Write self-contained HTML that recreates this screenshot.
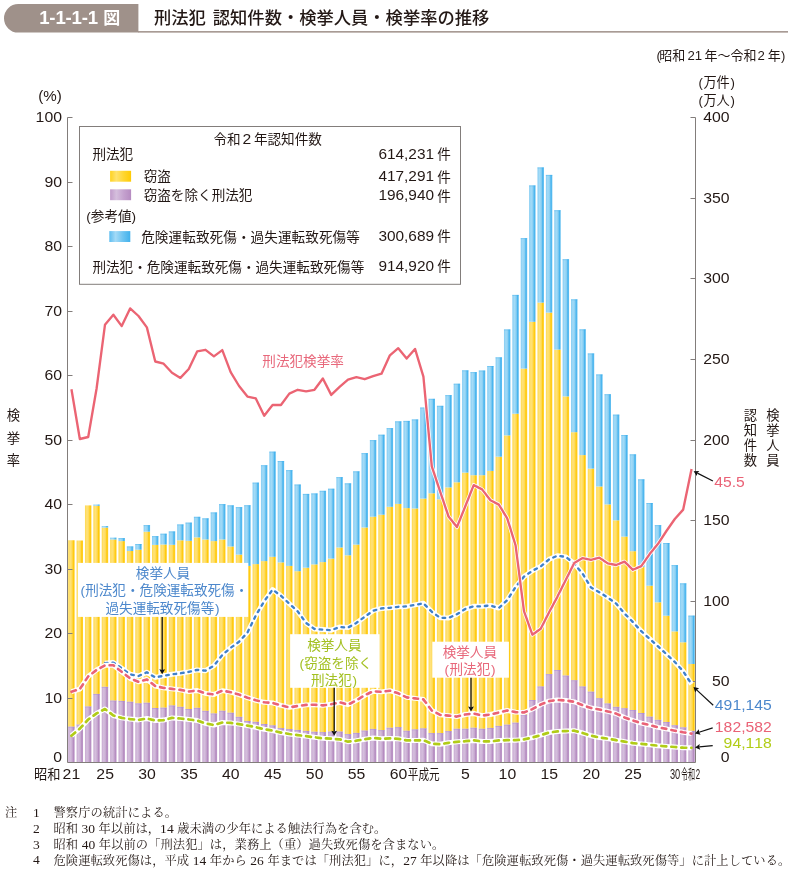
<!DOCTYPE html>
<html lang="ja"><head><meta charset="utf-8"><title>1-1-1-1図 刑法犯 認知件数・検挙人員・検挙率の推移</title>
<style>html,body{margin:0;padding:0;background:#fff}body{width:792px;height:871px;overflow:hidden;font-family:"Liberation Sans","Noto Sans CJK JP",sans-serif}svg{display:block;will-change:transform}text{font-family:inherit;white-space:pre}</style>
</head><body>
<svg width="792" height="871" viewBox="0 0 792 871" role="img" aria-label="1-1-1-1図 刑法犯 認知件数・検挙人員・検挙率の推移（昭和21年～令和2年）">
<defs>
<linearGradient id="gy" x1="0" x2="1" y1="0" y2="0"><stop offset="0" stop-color="#ffd94f"/><stop offset=".32" stop-color="#ffe27c"/><stop offset=".6" stop-color="#ffda55"/><stop offset=".8" stop-color="#ffc90c"/><stop offset="1" stop-color="#ffd130"/></linearGradient>
<linearGradient id="gp" x1="0" x2="1" y1="0" y2="0"><stop offset="0" stop-color="#c8aad1"/><stop offset=".32" stop-color="#d5bfdd"/><stop offset=".6" stop-color="#c9acd2"/><stop offset=".8" stop-color="#b58bc0"/><stop offset="1" stop-color="#bd99c8"/></linearGradient>
<linearGradient id="gb" x1="0" x2="1" y1="0" y2="0"><stop offset="0" stop-color="#86cdf3"/><stop offset=".32" stop-color="#a4dbf7"/><stop offset=".6" stop-color="#89cff3"/><stop offset=".8" stop-color="#48b4ee"/><stop offset="1" stop-color="#62bff0"/></linearGradient>
<linearGradient id="sy" x1="0" x2="1" y1="0" y2="0"><stop offset="0" stop-color="#ffd21f"/><stop offset=".3" stop-color="#ffe26c"/><stop offset=".65" stop-color="#ffd630"/><stop offset="1" stop-color="#ffcb05"/></linearGradient>
<linearGradient id="sp" x1="0" x2="1" y1="0" y2="0"><stop offset="0" stop-color="#c19ccb"/><stop offset=".3" stop-color="#d5bfdd"/><stop offset=".65" stop-color="#c4a1ce"/><stop offset="1" stop-color="#b68cc1"/></linearGradient>
<linearGradient id="sb" x1="0" x2="1" y1="0" y2="0"><stop offset="0" stop-color="#5ebdf0"/><stop offset=".3" stop-color="#a3daf7"/><stop offset=".65" stop-color="#6dc4f1"/><stop offset="1" stop-color="#41b1ec"/></linearGradient>
</defs>
<rect width="792" height="871" fill="#fff"/>
<path d="M138.4 4H18.3a14.3 14.3 0 0 0 0 28.6H138.4z" fill="#9f918a"/>
<rect x="138" y="31.1" width="650" height="1.5" fill="#9f918a"/>
<g aria-label="1-1-1-1" font-family='"Liberation Sans", sans-serif'><text x="39.2 49.37 55.39 65.55 71.57 81.74 87.76" y="24.3" font-size="18.6" font-weight="bold" fill="#fff">1-1-1-1</text></g>
<g aria-label="図" font-family='"Liberation Sans", "Noto Sans CJK JP", sans-serif'><text x="103.2" y="24.26" font-size="17" font-weight="bold" fill="#fff">図</text></g>
<g aria-label="刑法犯" font-family='"Liberation Sans", "Noto Sans CJK JP", sans-serif'><text x="154" y="24.37" font-size="17.3" font-weight="500" fill="#231815">刑法犯</text></g>
<g aria-label="認知件数・検挙人員・検挙率の推移" font-family='"Liberation Sans", "Noto Sans CJK JP", sans-serif'><text x="212.8" y="24.37" font-size="17.3" font-weight="500" fill="#231815">認知件数・検挙人員・検挙率の推移</text></g>
<g aria-label="(" font-family='"Liberation Sans", sans-serif'><text x="656.4" y="59.54" font-size="13" fill="#231815">(</text></g>
<g aria-label="昭和" font-family='"Liberation Sans", "Noto Sans CJK JP", sans-serif'><text x="659.3" y="59.54" font-size="13" fill="#231815">昭和</text></g>
<g aria-label="21" font-family='"Liberation Sans", sans-serif'><text x="687.4 694.74" y="59.54" font-size="13.2" fill="#231815">21</text></g>
<g aria-label="年" font-family='"Liberation Sans", "Noto Sans CJK JP", sans-serif'><text x="704.6" y="59.54" font-size="13" fill="#231815">年</text></g>
<g aria-label="～" font-family='"Liberation Sans", "Noto Sans CJK JP", sans-serif'><text x="717.6" y="59.54" font-size="13" fill="#231815">～</text></g>
<g aria-label="令和" font-family='"Liberation Sans", "Noto Sans CJK JP", sans-serif'><text x="730.6" y="59.54" font-size="13" fill="#231815">令和</text></g>
<g aria-label="2" font-family='"Liberation Sans", sans-serif'><text x="757.6" y="59.54" font-size="13.2" fill="#231815">2</text></g>
<g aria-label="年" font-family='"Liberation Sans", "Noto Sans CJK JP", sans-serif'><text x="767.8" y="59.54" font-size="13" fill="#231815">年</text></g>
<g aria-label=")" font-family='"Liberation Sans", sans-serif'><text x="780.9" y="59.54" font-size="13" fill="#231815">)</text></g>
<g aria-label="(%)" font-family='"Liberation Sans", sans-serif'><text transform="scale(1.08,1)" x="35.41 40.07 52.52" y="101.25" font-size="14" fill="#231815">(%)</text></g>
<g aria-label="(" font-family='"Liberation Sans", sans-serif'><text x="698.4" y="87.42" font-size="13.2" fill="#231815">(</text></g>
<g aria-label="万件" font-family='"Liberation Sans", "Noto Sans CJK JP", sans-serif'><text x="703.4" y="87.42" font-size="13.2" fill="#231815">万件</text></g>
<g aria-label=")" font-family='"Liberation Sans", sans-serif'><text x="730.6" y="87.42" font-size="13.2" fill="#231815">)</text></g>
<g aria-label="(" font-family='"Liberation Sans", sans-serif'><text x="698.4" y="104.72" font-size="13.2" fill="#231815">(</text></g>
<g aria-label="万人" font-family='"Liberation Sans", "Noto Sans CJK JP", sans-serif'><text x="703.4" y="104.72" font-size="13.2" fill="#231815">万人</text></g>
<g aria-label=")" font-family='"Liberation Sans", sans-serif'><text x="730.6" y="104.72" font-size="13.2" fill="#231815">)</text></g>
<g><rect x="68.2" y="726.6" width="6.45" height="35.9" fill="url(#gp)"/><rect x="68.2" y="540.25" width="6.45" height="186.35" fill="url(#gy)"/><rect x="76.58" y="724.5" width="6.45" height="38" fill="url(#gp)"/><rect x="76.58" y="540.5" width="6.45" height="184" fill="url(#gy)"/><rect x="84.96" y="706.4" width="6.45" height="56.1" fill="url(#gp)"/><rect x="84.96" y="505.4" width="6.45" height="201" fill="url(#gy)"/><rect x="93.34" y="693.9" width="6.45" height="68.6" fill="url(#gp)"/><rect x="93.34" y="505.8" width="6.45" height="188.1" fill="url(#gy)"/><rect x="93.34" y="504.5" width="6.45" height="1.3" fill="url(#gb)"/><rect x="101.72" y="686.8" width="6.45" height="75.7" fill="url(#gp)"/><rect x="101.72" y="527.6" width="6.45" height="159.2" fill="url(#gy)"/><rect x="101.72" y="526" width="6.45" height="1.6" fill="url(#gb)"/><rect x="110.1" y="700.5" width="6.45" height="62" fill="url(#gp)"/><rect x="110.1" y="539.5" width="6.45" height="161" fill="url(#gy)"/><rect x="110.1" y="537.6" width="6.45" height="1.9" fill="url(#gb)"/><rect x="118.48" y="700.9" width="6.45" height="61.6" fill="url(#gp)"/><rect x="118.48" y="541.1" width="6.45" height="159.8" fill="url(#gy)"/><rect x="118.48" y="538.1" width="6.45" height="3" fill="url(#gb)"/><rect x="126.86" y="701.7" width="6.45" height="60.8" fill="url(#gp)"/><rect x="126.86" y="551" width="6.45" height="150.7" fill="url(#gy)"/><rect x="126.86" y="546.4" width="6.45" height="4.6" fill="url(#gb)"/><rect x="135.24" y="703.3" width="6.45" height="59.2" fill="url(#gp)"/><rect x="135.24" y="549.7" width="6.45" height="153.6" fill="url(#gy)"/><rect x="135.24" y="544" width="6.45" height="5.7" fill="url(#gb)"/><rect x="143.62" y="702.7" width="6.45" height="59.8" fill="url(#gp)"/><rect x="143.62" y="531.7" width="6.45" height="171" fill="url(#gy)"/><rect x="143.62" y="525.1" width="6.45" height="6.6" fill="url(#gb)"/><rect x="152" y="708" width="6.45" height="54.5" fill="url(#gp)"/><rect x="152" y="544.9" width="6.45" height="163.1" fill="url(#gy)"/><rect x="152" y="536.1" width="6.45" height="8.8" fill="url(#gb)"/><rect x="160.38" y="707.6" width="6.45" height="54.9" fill="url(#gp)"/><rect x="160.38" y="544.5" width="6.45" height="163.1" fill="url(#gy)"/><rect x="160.38" y="533.7" width="6.45" height="10.8" fill="url(#gb)"/><rect x="168.76" y="705.4" width="6.45" height="57.1" fill="url(#gp)"/><rect x="168.76" y="544.8" width="6.45" height="160.6" fill="url(#gy)"/><rect x="168.76" y="531.4" width="6.45" height="13.4" fill="url(#gb)"/><rect x="177.14" y="706.8" width="6.45" height="55.7" fill="url(#gp)"/><rect x="177.14" y="540.3" width="6.45" height="166.5" fill="url(#gy)"/><rect x="177.14" y="524.4" width="6.45" height="15.9" fill="url(#gb)"/><rect x="185.52" y="709" width="6.45" height="53.5" fill="url(#gp)"/><rect x="185.52" y="540.8" width="6.45" height="168.2" fill="url(#gy)"/><rect x="185.52" y="522.6" width="6.45" height="18.2" fill="url(#gb)"/><rect x="193.9" y="707.8" width="6.45" height="54.7" fill="url(#gp)"/><rect x="193.9" y="537.4" width="6.45" height="170.4" fill="url(#gy)"/><rect x="193.9" y="516.8" width="6.45" height="20.6" fill="url(#gb)"/><rect x="202.28" y="710.8" width="6.45" height="51.7" fill="url(#gp)"/><rect x="202.28" y="539.5" width="6.45" height="171.3" fill="url(#gy)"/><rect x="202.28" y="518.3" width="6.45" height="21.2" fill="url(#gb)"/><rect x="210.66" y="713.4" width="6.45" height="49.1" fill="url(#gp)"/><rect x="210.66" y="541.1" width="6.45" height="172.3" fill="url(#gy)"/><rect x="210.66" y="512.4" width="6.45" height="28.7" fill="url(#gb)"/><rect x="219.04" y="710.7" width="6.45" height="51.8" fill="url(#gp)"/><rect x="219.04" y="539.5" width="6.45" height="171.2" fill="url(#gy)"/><rect x="219.04" y="504.1" width="6.45" height="35.4" fill="url(#gb)"/><rect x="227.42" y="712.7" width="6.45" height="49.8" fill="url(#gp)"/><rect x="227.42" y="546.5" width="6.45" height="166.2" fill="url(#gy)"/><rect x="227.42" y="505.3" width="6.45" height="41.2" fill="url(#gb)"/><rect x="235.8" y="716.8" width="6.45" height="45.7" fill="url(#gp)"/><rect x="235.8" y="554.6" width="6.45" height="162.2" fill="url(#gy)"/><rect x="235.8" y="507.1" width="6.45" height="47.5" fill="url(#gb)"/><rect x="244.18" y="721" width="6.45" height="41.5" fill="url(#gp)"/><rect x="244.18" y="565.9" width="6.45" height="155.1" fill="url(#gy)"/><rect x="244.18" y="505.2" width="6.45" height="60.7" fill="url(#gb)"/><rect x="252.56" y="721.8" width="6.45" height="40.7" fill="url(#gp)"/><rect x="252.56" y="564.1" width="6.45" height="157.7" fill="url(#gy)"/><rect x="252.56" y="482.6" width="6.45" height="81.5" fill="url(#gb)"/><rect x="260.94" y="724" width="6.45" height="38.5" fill="url(#gp)"/><rect x="260.94" y="561.1" width="6.45" height="162.9" fill="url(#gy)"/><rect x="260.94" y="465.2" width="6.45" height="95.9" fill="url(#gb)"/><rect x="269.32" y="725.3" width="6.45" height="37.2" fill="url(#gp)"/><rect x="269.32" y="556.8" width="6.45" height="168.5" fill="url(#gy)"/><rect x="269.32" y="451.6" width="6.45" height="105.2" fill="url(#gb)"/><rect x="277.7" y="728.1" width="6.45" height="34.4" fill="url(#gp)"/><rect x="277.7" y="562.4" width="6.45" height="165.7" fill="url(#gy)"/><rect x="277.7" y="461" width="6.45" height="101.4" fill="url(#gb)"/><rect x="286.08" y="729.1" width="6.45" height="33.4" fill="url(#gp)"/><rect x="286.08" y="565.9" width="6.45" height="163.2" fill="url(#gy)"/><rect x="286.08" y="470.1" width="6.45" height="95.8" fill="url(#gb)"/><rect x="294.46" y="729.9" width="6.45" height="32.6" fill="url(#gp)"/><rect x="294.46" y="571.2" width="6.45" height="158.7" fill="url(#gy)"/><rect x="294.46" y="484.5" width="6.45" height="86.7" fill="url(#gb)"/><rect x="302.84" y="730.9" width="6.45" height="31.6" fill="url(#gp)"/><rect x="302.84" y="567.7" width="6.45" height="163.2" fill="url(#gy)"/><rect x="302.84" y="493.9" width="6.45" height="73.8" fill="url(#gb)"/><rect x="311.22" y="731.7" width="6.45" height="30.8" fill="url(#gp)"/><rect x="311.22" y="564.4" width="6.45" height="167.3" fill="url(#gy)"/><rect x="311.22" y="493.4" width="6.45" height="71" fill="url(#gb)"/><rect x="319.6" y="732.1" width="6.45" height="30.4" fill="url(#gp)"/><rect x="319.6" y="562.1" width="6.45" height="170" fill="url(#gy)"/><rect x="319.6" y="490.8" width="6.45" height="71.3" fill="url(#gb)"/><rect x="327.98" y="731.5" width="6.45" height="31" fill="url(#gp)"/><rect x="327.98" y="558.6" width="6.45" height="172.9" fill="url(#gy)"/><rect x="327.98" y="488.7" width="6.45" height="69.9" fill="url(#gb)"/><rect x="336.36" y="731.5" width="6.45" height="31" fill="url(#gp)"/><rect x="336.36" y="547.5" width="6.45" height="184" fill="url(#gy)"/><rect x="336.36" y="477.1" width="6.45" height="70.4" fill="url(#gb)"/><rect x="344.74" y="734.1" width="6.45" height="28.4" fill="url(#gp)"/><rect x="344.74" y="555.3" width="6.45" height="178.8" fill="url(#gy)"/><rect x="344.74" y="483.3" width="6.45" height="72" fill="url(#gb)"/><rect x="353.12" y="732.9" width="6.45" height="29.6" fill="url(#gp)"/><rect x="353.12" y="544.6" width="6.45" height="188.3" fill="url(#gy)"/><rect x="353.12" y="471.3" width="6.45" height="73.3" fill="url(#gb)"/><rect x="361.5" y="730.5" width="6.45" height="32" fill="url(#gp)"/><rect x="361.5" y="527.5" width="6.45" height="203" fill="url(#gy)"/><rect x="361.5" y="453.1" width="6.45" height="74.4" fill="url(#gb)"/><rect x="369.88" y="728.9" width="6.45" height="33.6" fill="url(#gp)"/><rect x="369.88" y="516.7" width="6.45" height="212.2" fill="url(#gy)"/><rect x="369.88" y="440.1" width="6.45" height="76.6" fill="url(#gb)"/><rect x="378.26" y="730.1" width="6.45" height="32.4" fill="url(#gp)"/><rect x="378.26" y="514.7" width="6.45" height="215.4" fill="url(#gy)"/><rect x="378.26" y="434.7" width="6.45" height="80" fill="url(#gb)"/><rect x="386.64" y="727.7" width="6.45" height="34.8" fill="url(#gp)"/><rect x="386.64" y="506.8" width="6.45" height="220.9" fill="url(#gy)"/><rect x="386.64" y="428.1" width="6.45" height="78.7" fill="url(#gb)"/><rect x="395.02" y="727.1" width="6.45" height="35.4" fill="url(#gp)"/><rect x="395.02" y="503.9" width="6.45" height="223.2" fill="url(#gy)"/><rect x="395.02" y="421.3" width="6.45" height="82.6" fill="url(#gb)"/><rect x="403.4" y="730.7" width="6.45" height="31.8" fill="url(#gp)"/><rect x="403.4" y="508.1" width="6.45" height="222.6" fill="url(#gy)"/><rect x="403.4" y="420.9" width="6.45" height="87.2" fill="url(#gb)"/><rect x="411.78" y="729.3" width="6.45" height="33.2" fill="url(#gp)"/><rect x="411.78" y="508.5" width="6.45" height="220.8" fill="url(#gy)"/><rect x="411.78" y="419.4" width="6.45" height="89.1" fill="url(#gb)"/><rect x="420.16" y="728.3" width="6.45" height="34.2" fill="url(#gp)"/><rect x="420.16" y="498.6" width="6.45" height="229.7" fill="url(#gy)"/><rect x="420.16" y="407.5" width="6.45" height="91.1" fill="url(#gb)"/><rect x="428.54" y="733.1" width="6.45" height="29.4" fill="url(#gp)"/><rect x="428.54" y="493.3" width="6.45" height="239.8" fill="url(#gy)"/><rect x="428.54" y="398.8" width="6.45" height="94.5" fill="url(#gb)"/><rect x="436.92" y="733.1" width="6.45" height="29.4" fill="url(#gp)"/><rect x="436.92" y="499.3" width="6.45" height="233.8" fill="url(#gy)"/><rect x="436.92" y="405.8" width="6.45" height="93.5" fill="url(#gb)"/><rect x="445.3" y="731.1" width="6.45" height="31.4" fill="url(#gp)"/><rect x="445.3" y="487.4" width="6.45" height="243.7" fill="url(#gy)"/><rect x="445.3" y="395.1" width="6.45" height="92.3" fill="url(#gb)"/><rect x="453.68" y="728.7" width="6.45" height="33.8" fill="url(#gp)"/><rect x="453.68" y="482.3" width="6.45" height="246.4" fill="url(#gy)"/><rect x="453.68" y="383.7" width="6.45" height="98.6" fill="url(#gb)"/><rect x="462.06" y="728.7" width="6.45" height="33.8" fill="url(#gp)"/><rect x="462.06" y="472.6" width="6.45" height="256.1" fill="url(#gy)"/><rect x="462.06" y="370.3" width="6.45" height="102.3" fill="url(#gb)"/><rect x="470.44" y="727.7" width="6.45" height="34.8" fill="url(#gp)"/><rect x="470.44" y="475.2" width="6.45" height="252.5" fill="url(#gy)"/><rect x="470.44" y="372.1" width="6.45" height="103.1" fill="url(#gb)"/><rect x="478.82" y="728.7" width="6.45" height="33.8" fill="url(#gp)"/><rect x="478.82" y="475.2" width="6.45" height="253.5" fill="url(#gy)"/><rect x="478.82" y="370.5" width="6.45" height="104.7" fill="url(#gb)"/><rect x="487.2" y="727.9" width="6.45" height="34.6" fill="url(#gp)"/><rect x="487.2" y="470.9" width="6.45" height="257" fill="url(#gy)"/><rect x="487.2" y="366" width="6.45" height="104.9" fill="url(#gb)"/><rect x="495.58" y="725.9" width="6.45" height="36.6" fill="url(#gp)"/><rect x="495.58" y="456.7" width="6.45" height="269.2" fill="url(#gy)"/><rect x="495.58" y="357.3" width="6.45" height="99.4" fill="url(#gb)"/><rect x="503.96" y="724.6" width="6.45" height="37.9" fill="url(#gp)"/><rect x="503.96" y="435.4" width="6.45" height="289.2" fill="url(#gy)"/><rect x="503.96" y="329.4" width="6.45" height="106" fill="url(#gb)"/><rect x="512.34" y="722.6" width="6.45" height="39.9" fill="url(#gp)"/><rect x="512.34" y="413.7" width="6.45" height="308.9" fill="url(#gy)"/><rect x="512.34" y="294.9" width="6.45" height="118.8" fill="url(#gb)"/><rect x="520.72" y="714.6" width="6.45" height="47.9" fill="url(#gp)"/><rect x="520.72" y="368.6" width="6.45" height="346" fill="url(#gy)"/><rect x="520.72" y="238.1" width="6.45" height="130.5" fill="url(#gb)"/><rect x="529.1" y="700" width="6.45" height="62.5" fill="url(#gp)"/><rect x="529.1" y="321.8" width="6.45" height="378.2" fill="url(#gy)"/><rect x="529.1" y="185.4" width="6.45" height="136.4" fill="url(#gb)"/><rect x="537.48" y="686.4" width="6.45" height="76.1" fill="url(#gp)"/><rect x="537.48" y="302.6" width="6.45" height="383.8" fill="url(#gy)"/><rect x="537.48" y="167.4" width="6.45" height="135.2" fill="url(#gb)"/><rect x="545.86" y="674.1" width="6.45" height="88.4" fill="url(#gp)"/><rect x="545.86" y="312.6" width="6.45" height="361.5" fill="url(#gy)"/><rect x="545.86" y="174.9" width="6.45" height="137.7" fill="url(#gb)"/><rect x="554.24" y="670" width="6.45" height="92.5" fill="url(#gp)"/><rect x="554.24" y="349.6" width="6.45" height="320.4" fill="url(#gy)"/><rect x="554.24" y="210.2" width="6.45" height="139.4" fill="url(#gb)"/><rect x="562.62" y="675.5" width="6.45" height="87" fill="url(#gp)"/><rect x="562.62" y="396.4" width="6.45" height="279.1" fill="url(#gy)"/><rect x="562.62" y="259.2" width="6.45" height="137.2" fill="url(#gb)"/><rect x="571" y="680.2" width="6.45" height="82.3" fill="url(#gp)"/><rect x="571" y="432.2" width="6.45" height="248" fill="url(#gy)"/><rect x="571" y="299.3" width="6.45" height="132.9" fill="url(#gb)"/><rect x="579.38" y="686.4" width="6.45" height="76.1" fill="url(#gp)"/><rect x="579.38" y="455.1" width="6.45" height="231.3" fill="url(#gy)"/><rect x="579.38" y="329.3" width="6.45" height="125.8" fill="url(#gb)"/><rect x="587.76" y="691.6" width="6.45" height="70.9" fill="url(#gp)"/><rect x="587.76" y="468.6" width="6.45" height="223" fill="url(#gy)"/><rect x="587.76" y="353.4" width="6.45" height="115.2" fill="url(#gb)"/><rect x="596.14" y="698.2" width="6.45" height="64.3" fill="url(#gp)"/><rect x="596.14" y="486.5" width="6.45" height="211.7" fill="url(#gy)"/><rect x="596.14" y="374.4" width="6.45" height="112.1" fill="url(#gb)"/><rect x="604.52" y="703.4" width="6.45" height="59.1" fill="url(#gp)"/><rect x="604.52" y="504.4" width="6.45" height="199" fill="url(#gy)"/><rect x="604.52" y="394.2" width="6.45" height="110.2" fill="url(#gb)"/><rect x="612.9" y="706.8" width="6.45" height="55.7" fill="url(#gp)"/><rect x="612.9" y="520.3" width="6.45" height="186.5" fill="url(#gy)"/><rect x="612.9" y="414.6" width="6.45" height="105.7" fill="url(#gb)"/><rect x="621.28" y="708.2" width="6.45" height="54.3" fill="url(#gp)"/><rect x="621.28" y="536.6" width="6.45" height="171.6" fill="url(#gy)"/><rect x="621.28" y="435" width="6.45" height="101.6" fill="url(#gb)"/><rect x="629.66" y="710" width="6.45" height="52.5" fill="url(#gp)"/><rect x="629.66" y="551.2" width="6.45" height="158.8" fill="url(#gy)"/><rect x="629.66" y="454.3" width="6.45" height="96.9" fill="url(#gb)"/><rect x="638.04" y="713" width="6.45" height="49.5" fill="url(#gp)"/><rect x="638.04" y="567.1" width="6.45" height="145.9" fill="url(#gy)"/><rect x="638.04" y="479.3" width="6.45" height="87.8" fill="url(#gb)"/><rect x="646.42" y="716.6" width="6.45" height="45.9" fill="url(#gp)"/><rect x="646.42" y="585.7" width="6.45" height="130.9" fill="url(#gy)"/><rect x="646.42" y="503" width="6.45" height="82.7" fill="url(#gb)"/><rect x="654.8" y="719.8" width="6.45" height="42.7" fill="url(#gp)"/><rect x="654.8" y="602.3" width="6.45" height="117.5" fill="url(#gy)"/><rect x="654.8" y="525.1" width="6.45" height="77.2" fill="url(#gb)"/><rect x="663.18" y="722" width="6.45" height="40.5" fill="url(#gp)"/><rect x="663.18" y="615.7" width="6.45" height="106.3" fill="url(#gy)"/><rect x="663.18" y="543" width="6.45" height="72.7" fill="url(#gb)"/><rect x="671.56" y="725.2" width="6.45" height="37.3" fill="url(#gp)"/><rect x="671.56" y="631.4" width="6.45" height="93.8" fill="url(#gy)"/><rect x="671.56" y="565.1" width="6.45" height="66.3" fill="url(#gb)"/><rect x="679.94" y="727.3" width="6.45" height="35.2" fill="url(#gp)"/><rect x="679.94" y="642.3" width="6.45" height="85" fill="url(#gy)"/><rect x="679.94" y="583.3" width="6.45" height="59" fill="url(#gb)"/><rect x="688.32" y="730.8" width="6.45" height="31.7" fill="url(#gp)"/><rect x="688.32" y="664" width="6.45" height="66.8" fill="url(#gy)"/><rect x="688.32" y="615.6" width="6.45" height="48.4" fill="url(#gb)"/><rect x="68.2" y="726.6" width="6.45" height="1" fill="#a585dc" opacity=".45"/><rect x="76.58" y="724.5" width="6.45" height="1" fill="#a585dc" opacity=".45"/><rect x="84.96" y="706.4" width="6.45" height="1" fill="#a585dc" opacity=".45"/><rect x="93.34" y="693.9" width="6.45" height="1" fill="#a585dc" opacity=".45"/><rect x="101.72" y="686.8" width="6.45" height="1" fill="#a585dc" opacity=".45"/><rect x="110.1" y="700.5" width="6.45" height="1" fill="#a585dc" opacity=".45"/><rect x="118.48" y="700.9" width="6.45" height="1" fill="#a585dc" opacity=".45"/><rect x="118.48" y="538.1" width="6.45" height="1" fill="#3fb0ee" opacity=".4"/><rect x="126.86" y="701.7" width="6.45" height="1" fill="#a585dc" opacity=".45"/><rect x="126.86" y="546.4" width="6.45" height="1" fill="#3fb0ee" opacity=".4"/><rect x="135.24" y="703.3" width="6.45" height="1" fill="#a585dc" opacity=".45"/><rect x="135.24" y="544" width="6.45" height="1" fill="#3fb0ee" opacity=".4"/><rect x="143.62" y="702.7" width="6.45" height="1" fill="#a585dc" opacity=".45"/><rect x="143.62" y="525.1" width="6.45" height="1" fill="#3fb0ee" opacity=".4"/><rect x="152" y="708" width="6.45" height="1" fill="#a585dc" opacity=".45"/><rect x="152" y="536.1" width="6.45" height="1" fill="#3fb0ee" opacity=".4"/><rect x="160.38" y="707.6" width="6.45" height="1" fill="#a585dc" opacity=".45"/><rect x="160.38" y="533.7" width="6.45" height="1" fill="#3fb0ee" opacity=".4"/><rect x="168.76" y="705.4" width="6.45" height="1" fill="#a585dc" opacity=".45"/><rect x="168.76" y="531.4" width="6.45" height="1" fill="#3fb0ee" opacity=".4"/><rect x="177.14" y="706.8" width="6.45" height="1" fill="#a585dc" opacity=".45"/><rect x="177.14" y="524.4" width="6.45" height="1" fill="#3fb0ee" opacity=".4"/><rect x="185.52" y="709" width="6.45" height="1" fill="#a585dc" opacity=".45"/><rect x="185.52" y="522.6" width="6.45" height="1" fill="#3fb0ee" opacity=".4"/><rect x="193.9" y="707.8" width="6.45" height="1" fill="#a585dc" opacity=".45"/><rect x="193.9" y="516.8" width="6.45" height="1" fill="#3fb0ee" opacity=".4"/><rect x="202.28" y="710.8" width="6.45" height="1" fill="#a585dc" opacity=".45"/><rect x="202.28" y="518.3" width="6.45" height="1" fill="#3fb0ee" opacity=".4"/><rect x="210.66" y="713.4" width="6.45" height="1" fill="#a585dc" opacity=".45"/><rect x="210.66" y="512.4" width="6.45" height="1" fill="#3fb0ee" opacity=".4"/><rect x="219.04" y="710.7" width="6.45" height="1" fill="#a585dc" opacity=".45"/><rect x="219.04" y="504.1" width="6.45" height="1" fill="#3fb0ee" opacity=".4"/><rect x="227.42" y="712.7" width="6.45" height="1" fill="#a585dc" opacity=".45"/><rect x="227.42" y="505.3" width="6.45" height="1" fill="#3fb0ee" opacity=".4"/><rect x="235.8" y="716.8" width="6.45" height="1" fill="#a585dc" opacity=".45"/><rect x="235.8" y="507.1" width="6.45" height="1" fill="#3fb0ee" opacity=".4"/><rect x="244.18" y="721" width="6.45" height="1" fill="#a585dc" opacity=".45"/><rect x="244.18" y="505.2" width="6.45" height="1" fill="#3fb0ee" opacity=".4"/><rect x="252.56" y="721.8" width="6.45" height="1" fill="#a585dc" opacity=".45"/><rect x="252.56" y="482.6" width="6.45" height="1" fill="#3fb0ee" opacity=".4"/><rect x="260.94" y="724" width="6.45" height="1" fill="#a585dc" opacity=".45"/><rect x="260.94" y="465.2" width="6.45" height="1" fill="#3fb0ee" opacity=".4"/><rect x="269.32" y="725.3" width="6.45" height="1" fill="#a585dc" opacity=".45"/><rect x="269.32" y="451.6" width="6.45" height="1" fill="#3fb0ee" opacity=".4"/><rect x="277.7" y="728.1" width="6.45" height="1" fill="#a585dc" opacity=".45"/><rect x="277.7" y="461" width="6.45" height="1" fill="#3fb0ee" opacity=".4"/><rect x="286.08" y="729.1" width="6.45" height="1" fill="#a585dc" opacity=".45"/><rect x="286.08" y="470.1" width="6.45" height="1" fill="#3fb0ee" opacity=".4"/><rect x="294.46" y="729.9" width="6.45" height="1" fill="#a585dc" opacity=".45"/><rect x="294.46" y="484.5" width="6.45" height="1" fill="#3fb0ee" opacity=".4"/><rect x="302.84" y="730.9" width="6.45" height="1" fill="#a585dc" opacity=".45"/><rect x="302.84" y="493.9" width="6.45" height="1" fill="#3fb0ee" opacity=".4"/><rect x="311.22" y="731.7" width="6.45" height="1" fill="#a585dc" opacity=".45"/><rect x="311.22" y="493.4" width="6.45" height="1" fill="#3fb0ee" opacity=".4"/><rect x="319.6" y="732.1" width="6.45" height="1" fill="#a585dc" opacity=".45"/><rect x="319.6" y="490.8" width="6.45" height="1" fill="#3fb0ee" opacity=".4"/><rect x="327.98" y="731.5" width="6.45" height="1" fill="#a585dc" opacity=".45"/><rect x="327.98" y="488.7" width="6.45" height="1" fill="#3fb0ee" opacity=".4"/><rect x="336.36" y="731.5" width="6.45" height="1" fill="#a585dc" opacity=".45"/><rect x="336.36" y="477.1" width="6.45" height="1" fill="#3fb0ee" opacity=".4"/><rect x="344.74" y="734.1" width="6.45" height="1" fill="#a585dc" opacity=".45"/><rect x="344.74" y="483.3" width="6.45" height="1" fill="#3fb0ee" opacity=".4"/><rect x="353.12" y="732.9" width="6.45" height="1" fill="#a585dc" opacity=".45"/><rect x="353.12" y="471.3" width="6.45" height="1" fill="#3fb0ee" opacity=".4"/><rect x="361.5" y="730.5" width="6.45" height="1" fill="#a585dc" opacity=".45"/><rect x="361.5" y="453.1" width="6.45" height="1" fill="#3fb0ee" opacity=".4"/><rect x="369.88" y="728.9" width="6.45" height="1" fill="#a585dc" opacity=".45"/><rect x="369.88" y="440.1" width="6.45" height="1" fill="#3fb0ee" opacity=".4"/><rect x="378.26" y="730.1" width="6.45" height="1" fill="#a585dc" opacity=".45"/><rect x="378.26" y="434.7" width="6.45" height="1" fill="#3fb0ee" opacity=".4"/><rect x="386.64" y="727.7" width="6.45" height="1" fill="#a585dc" opacity=".45"/><rect x="386.64" y="428.1" width="6.45" height="1" fill="#3fb0ee" opacity=".4"/><rect x="395.02" y="727.1" width="6.45" height="1" fill="#a585dc" opacity=".45"/><rect x="395.02" y="421.3" width="6.45" height="1" fill="#3fb0ee" opacity=".4"/><rect x="403.4" y="730.7" width="6.45" height="1" fill="#a585dc" opacity=".45"/><rect x="403.4" y="420.9" width="6.45" height="1" fill="#3fb0ee" opacity=".4"/><rect x="411.78" y="729.3" width="6.45" height="1" fill="#a585dc" opacity=".45"/><rect x="411.78" y="419.4" width="6.45" height="1" fill="#3fb0ee" opacity=".4"/><rect x="420.16" y="728.3" width="6.45" height="1" fill="#a585dc" opacity=".45"/><rect x="420.16" y="407.5" width="6.45" height="1" fill="#3fb0ee" opacity=".4"/><rect x="428.54" y="733.1" width="6.45" height="1" fill="#a585dc" opacity=".45"/><rect x="428.54" y="398.8" width="6.45" height="1" fill="#3fb0ee" opacity=".4"/><rect x="436.92" y="733.1" width="6.45" height="1" fill="#a585dc" opacity=".45"/><rect x="436.92" y="405.8" width="6.45" height="1" fill="#3fb0ee" opacity=".4"/><rect x="445.3" y="731.1" width="6.45" height="1" fill="#a585dc" opacity=".45"/><rect x="445.3" y="395.1" width="6.45" height="1" fill="#3fb0ee" opacity=".4"/><rect x="453.68" y="728.7" width="6.45" height="1" fill="#a585dc" opacity=".45"/><rect x="453.68" y="383.7" width="6.45" height="1" fill="#3fb0ee" opacity=".4"/><rect x="462.06" y="728.7" width="6.45" height="1" fill="#a585dc" opacity=".45"/><rect x="462.06" y="370.3" width="6.45" height="1" fill="#3fb0ee" opacity=".4"/><rect x="470.44" y="727.7" width="6.45" height="1" fill="#a585dc" opacity=".45"/><rect x="470.44" y="372.1" width="6.45" height="1" fill="#3fb0ee" opacity=".4"/><rect x="478.82" y="728.7" width="6.45" height="1" fill="#a585dc" opacity=".45"/><rect x="478.82" y="370.5" width="6.45" height="1" fill="#3fb0ee" opacity=".4"/><rect x="487.2" y="727.9" width="6.45" height="1" fill="#a585dc" opacity=".45"/><rect x="487.2" y="366" width="6.45" height="1" fill="#3fb0ee" opacity=".4"/><rect x="495.58" y="725.9" width="6.45" height="1" fill="#a585dc" opacity=".45"/><rect x="495.58" y="357.3" width="6.45" height="1" fill="#3fb0ee" opacity=".4"/><rect x="503.96" y="724.6" width="6.45" height="1" fill="#a585dc" opacity=".45"/><rect x="503.96" y="329.4" width="6.45" height="1" fill="#3fb0ee" opacity=".4"/><rect x="512.34" y="722.6" width="6.45" height="1" fill="#a585dc" opacity=".45"/><rect x="512.34" y="294.9" width="6.45" height="1" fill="#3fb0ee" opacity=".4"/><rect x="520.72" y="714.6" width="6.45" height="1" fill="#a585dc" opacity=".45"/><rect x="520.72" y="238.1" width="6.45" height="1" fill="#3fb0ee" opacity=".4"/><rect x="529.1" y="700" width="6.45" height="1" fill="#a585dc" opacity=".45"/><rect x="529.1" y="185.4" width="6.45" height="1" fill="#3fb0ee" opacity=".4"/><rect x="537.48" y="686.4" width="6.45" height="1" fill="#a585dc" opacity=".45"/><rect x="537.48" y="167.4" width="6.45" height="1" fill="#3fb0ee" opacity=".4"/><rect x="545.86" y="674.1" width="6.45" height="1" fill="#a585dc" opacity=".45"/><rect x="545.86" y="174.9" width="6.45" height="1" fill="#3fb0ee" opacity=".4"/><rect x="554.24" y="670" width="6.45" height="1" fill="#a585dc" opacity=".45"/><rect x="554.24" y="210.2" width="6.45" height="1" fill="#3fb0ee" opacity=".4"/><rect x="562.62" y="675.5" width="6.45" height="1" fill="#a585dc" opacity=".45"/><rect x="562.62" y="259.2" width="6.45" height="1" fill="#3fb0ee" opacity=".4"/><rect x="571" y="680.2" width="6.45" height="1" fill="#a585dc" opacity=".45"/><rect x="571" y="299.3" width="6.45" height="1" fill="#3fb0ee" opacity=".4"/><rect x="579.38" y="686.4" width="6.45" height="1" fill="#a585dc" opacity=".45"/><rect x="579.38" y="329.3" width="6.45" height="1" fill="#3fb0ee" opacity=".4"/><rect x="587.76" y="691.6" width="6.45" height="1" fill="#a585dc" opacity=".45"/><rect x="587.76" y="353.4" width="6.45" height="1" fill="#3fb0ee" opacity=".4"/><rect x="596.14" y="698.2" width="6.45" height="1" fill="#a585dc" opacity=".45"/><rect x="596.14" y="374.4" width="6.45" height="1" fill="#3fb0ee" opacity=".4"/><rect x="604.52" y="703.4" width="6.45" height="1" fill="#a585dc" opacity=".45"/><rect x="604.52" y="394.2" width="6.45" height="1" fill="#3fb0ee" opacity=".4"/><rect x="612.9" y="706.8" width="6.45" height="1" fill="#a585dc" opacity=".45"/><rect x="612.9" y="414.6" width="6.45" height="1" fill="#3fb0ee" opacity=".4"/><rect x="621.28" y="708.2" width="6.45" height="1" fill="#a585dc" opacity=".45"/><rect x="621.28" y="435" width="6.45" height="1" fill="#3fb0ee" opacity=".4"/><rect x="629.66" y="710" width="6.45" height="1" fill="#a585dc" opacity=".45"/><rect x="629.66" y="454.3" width="6.45" height="1" fill="#3fb0ee" opacity=".4"/><rect x="638.04" y="713" width="6.45" height="1" fill="#a585dc" opacity=".45"/><rect x="638.04" y="479.3" width="6.45" height="1" fill="#3fb0ee" opacity=".4"/><rect x="646.42" y="716.6" width="6.45" height="1" fill="#a585dc" opacity=".45"/><rect x="646.42" y="503" width="6.45" height="1" fill="#3fb0ee" opacity=".4"/><rect x="654.8" y="719.8" width="6.45" height="1" fill="#a585dc" opacity=".45"/><rect x="654.8" y="525.1" width="6.45" height="1" fill="#3fb0ee" opacity=".4"/><rect x="663.18" y="722" width="6.45" height="1" fill="#a585dc" opacity=".45"/><rect x="663.18" y="543" width="6.45" height="1" fill="#3fb0ee" opacity=".4"/><rect x="671.56" y="725.2" width="6.45" height="1" fill="#a585dc" opacity=".45"/><rect x="671.56" y="565.1" width="6.45" height="1" fill="#3fb0ee" opacity=".4"/><rect x="679.94" y="727.3" width="6.45" height="1" fill="#a585dc" opacity=".45"/><rect x="679.94" y="583.3" width="6.45" height="1" fill="#3fb0ee" opacity=".4"/><rect x="688.32" y="730.8" width="6.45" height="1" fill="#a585dc" opacity=".45"/><rect x="688.32" y="615.6" width="6.45" height="1" fill="#3fb0ee" opacity=".4"/></g>
<path d="M72.5 117.5H67.5V762.5H695.5V117.5H690.5" fill="none" stroke="#827d7b" stroke-width="1"/><path d="M67.5 698.5h5" stroke="#827d7b" stroke-width="1"/><path d="M67.5 633.5h5" stroke="#827d7b" stroke-width="1"/><path d="M67.5 569.5h5" stroke="#827d7b" stroke-width="1"/><path d="M67.5 504.5h5" stroke="#827d7b" stroke-width="1"/><path d="M67.5 440.5h5" stroke="#827d7b" stroke-width="1"/><path d="M67.5 375.5h5" stroke="#827d7b" stroke-width="1"/><path d="M67.5 311.5h5" stroke="#827d7b" stroke-width="1"/><path d="M67.5 246.5h5" stroke="#827d7b" stroke-width="1"/><path d="M67.5 182.5h5" stroke="#827d7b" stroke-width="1"/><path d="M695.5 681.5h-5" stroke="#827d7b" stroke-width="1"/><path d="M695.5 601.5h-5" stroke="#827d7b" stroke-width="1"/><path d="M695.5 520.5h-5" stroke="#827d7b" stroke-width="1"/><path d="M695.5 440.5h-5" stroke="#827d7b" stroke-width="1"/><path d="M695.5 359.5h-5" stroke="#827d7b" stroke-width="1"/><path d="M695.5 278.5h-5" stroke="#827d7b" stroke-width="1"/><path d="M695.5 198.5h-5" stroke="#827d7b" stroke-width="1"/>
<g aria-label="0" font-family='"Liberation Sans", sans-serif'><text transform="scale(1.13,1)" x="47.08" y="762.3" font-size="14" fill="#231815">0</text></g>
<g aria-label="10" font-family='"Liberation Sans", sans-serif'><text transform="scale(1.13,1)" x="39.29 47.08" y="702.51" font-size="14" fill="#231815">10</text></g>
<g aria-label="20" font-family='"Liberation Sans", sans-serif'><text transform="scale(1.13,1)" x="39.29 47.08" y="638.01" font-size="14" fill="#231815">20</text></g>
<g aria-label="30" font-family='"Liberation Sans", sans-serif'><text transform="scale(1.13,1)" x="39.29 47.08" y="573.51" font-size="14" fill="#231815">30</text></g>
<g aria-label="40" font-family='"Liberation Sans", sans-serif'><text transform="scale(1.13,1)" x="39.29 47.08" y="509.01" font-size="14" fill="#231815">40</text></g>
<g aria-label="50" font-family='"Liberation Sans", sans-serif'><text transform="scale(1.13,1)" x="39.29 47.08" y="444.51" font-size="14" fill="#231815">50</text></g>
<g aria-label="60" font-family='"Liberation Sans", sans-serif'><text transform="scale(1.13,1)" x="39.29 47.08" y="380.01" font-size="14" fill="#231815">60</text></g>
<g aria-label="70" font-family='"Liberation Sans", sans-serif'><text transform="scale(1.13,1)" x="39.29 47.08" y="315.51" font-size="14" fill="#231815">70</text></g>
<g aria-label="80" font-family='"Liberation Sans", sans-serif'><text transform="scale(1.13,1)" x="39.29 47.08" y="251.01" font-size="14" fill="#231815">80</text></g>
<g aria-label="90" font-family='"Liberation Sans", sans-serif'><text transform="scale(1.13,1)" x="39.29 47.08" y="186.51" font-size="14" fill="#231815">90</text></g>
<g aria-label="100" font-family='"Liberation Sans", sans-serif'><text transform="scale(1.13,1)" x="31.51 39.29 47.08" y="122.01" font-size="14" fill="#231815">100</text></g>
<g aria-label="0" font-family='"Liberation Sans", sans-serif'><text transform="scale(1.13,1)" x="637.88" y="762.3" font-size="14" fill="#231815">0</text></g>
<g aria-label="50" font-family='"Liberation Sans", sans-serif'><text transform="scale(1.13,1)" x="630.09 637.88" y="686.39" font-size="14" fill="#231815">50</text></g>
<g aria-label="100" font-family='"Liberation Sans", sans-serif'><text transform="scale(1.13,1)" x="622.31 630.09 637.88" y="605.76" font-size="14" fill="#231815">100</text></g>
<g aria-label="150" font-family='"Liberation Sans", sans-serif'><text transform="scale(1.13,1)" x="622.31 630.09 637.88" y="525.14" font-size="14" fill="#231815">150</text></g>
<g aria-label="200" font-family='"Liberation Sans", sans-serif'><text transform="scale(1.13,1)" x="622.31 630.09 637.88" y="444.51" font-size="14" fill="#231815">200</text></g>
<g aria-label="250" font-family='"Liberation Sans", sans-serif'><text transform="scale(1.13,1)" x="622.31 630.09 637.88" y="363.89" font-size="14" fill="#231815">250</text></g>
<g aria-label="300" font-family='"Liberation Sans", sans-serif'><text transform="scale(1.13,1)" x="622.31 630.09 637.88" y="283.26" font-size="14" fill="#231815">300</text></g>
<g aria-label="350" font-family='"Liberation Sans", sans-serif'><text transform="scale(1.13,1)" x="622.31 630.09 637.88" y="202.64" font-size="14" fill="#231815">350</text></g>
<g aria-label="400" font-family='"Liberation Sans", sans-serif'><text transform="scale(1.13,1)" x="622.31 630.09 637.88" y="122.01" font-size="14" fill="#231815">400</text></g>
<g aria-label="昭和" font-family='"Liberation Sans", "Noto Sans CJK JP", sans-serif'><text x="33.9" y="778.63" font-size="13.25" fill="#231815">昭和</text></g>
<g aria-label="21" font-family='"Liberation Sans", sans-serif'><text transform="scale(1.13,1)" x="55.4 63.19" y="778.6" font-size="14" fill="#231815">21</text></g>
<g aria-label="25" font-family='"Liberation Sans", sans-serif'><text transform="scale(1.13,1)" x="85.28 93.07" y="778.6" font-size="14" fill="#231815">25</text></g>
<g aria-label="30" font-family='"Liberation Sans", sans-serif'><text transform="scale(1.13,1)" x="122.36 130.15" y="778.6" font-size="14" fill="#231815">30</text></g>
<g aria-label="35" font-family='"Liberation Sans", sans-serif'><text transform="scale(1.13,1)" x="159.44 167.23" y="778.6" font-size="14" fill="#231815">35</text></g>
<g aria-label="40" font-family='"Liberation Sans", sans-serif'><text transform="scale(1.13,1)" x="196.52 204.31" y="778.6" font-size="14" fill="#231815">40</text></g>
<g aria-label="45" font-family='"Liberation Sans", sans-serif'><text transform="scale(1.13,1)" x="233.6 241.39" y="778.6" font-size="14" fill="#231815">45</text></g>
<g aria-label="50" font-family='"Liberation Sans", sans-serif'><text transform="scale(1.13,1)" x="270.68 278.47" y="778.6" font-size="14" fill="#231815">50</text></g>
<g aria-label="55" font-family='"Liberation Sans", sans-serif'><text transform="scale(1.13,1)" x="307.76 315.55" y="778.6" font-size="14" fill="#231815">55</text></g>
<g aria-label="60" font-family='"Liberation Sans", sans-serif'><text transform="scale(1.13,1)" x="344.84 352.63" y="778.6" font-size="14" fill="#231815">60</text></g>
<g aria-label="5" font-family='"Liberation Sans", sans-serif'><text transform="scale(1.13,1)" x="408.06" y="778.6" font-size="14" fill="#231815">5</text></g>
<g aria-label="10" font-family='"Liberation Sans", sans-serif'><text transform="scale(1.13,1)" x="441.25 449.04" y="778.6" font-size="14" fill="#231815">10</text></g>
<g aria-label="15" font-family='"Liberation Sans", sans-serif'><text transform="scale(1.13,1)" x="478.33 486.12" y="778.6" font-size="14" fill="#231815">15</text></g>
<g aria-label="20" font-family='"Liberation Sans", sans-serif'><text transform="scale(1.13,1)" x="515.41 523.19" y="778.6" font-size="14" fill="#231815">20</text></g>
<g aria-label="25" font-family='"Liberation Sans", sans-serif'><text transform="scale(1.13,1)" x="552.49 560.27" y="778.6" font-size="14" fill="#231815">25</text></g>
<g aria-label="平成元" font-family='"Liberation Sans", "Noto Sans CJK JP", sans-serif'><text transform="translate(407.8 778.65) scale(0.8,1)" x="0" y="0" font-size="13.3" fill="#231815">平成元</text></g>
<g aria-label="30" font-family='"Liberation Sans", sans-serif'><text transform="scale(0.66,1)" x="1015 1022.79" y="778.6" font-size="14" fill="#231815">30</text></g>
<g aria-label="令和" font-family='"Liberation Sans", "Noto Sans CJK JP", sans-serif'><text transform="translate(681 778.65) scale(0.535,1)" x="0" y="0" font-size="13.3" fill="#231815">令和</text></g>
<g aria-label="2" font-family='"Liberation Sans", sans-serif'><text transform="scale(0.56,1)" x="1242.5" y="778.6" font-size="14" fill="#231815">2</text></g>
<g aria-label="検" font-family='"Liberation Sans", "Noto Sans CJK JP", sans-serif'><text x="6.85" y="420.05" font-size="13.3" fill="#231815">検</text></g>
<g aria-label="挙" font-family='"Liberation Sans", "Noto Sans CJK JP", sans-serif'><text x="6.85" y="442.75" font-size="13.3" fill="#231815">挙</text></g>
<g aria-label="率" font-family='"Liberation Sans", "Noto Sans CJK JP", sans-serif'><text x="6.85" y="465.05" font-size="13.3" fill="#231815">率</text></g>
<g aria-label="認" font-family='"Liberation Sans", "Noto Sans CJK JP", sans-serif'><text x="743.75" y="420.25" font-size="13.3" fill="#231815">認</text></g>
<g aria-label="知" font-family='"Liberation Sans", "Noto Sans CJK JP", sans-serif'><text x="743.75" y="435.15" font-size="13.3" fill="#231815">知</text></g>
<g aria-label="件" font-family='"Liberation Sans", "Noto Sans CJK JP", sans-serif'><text x="743.75" y="450.05" font-size="13.3" fill="#231815">件</text></g>
<g aria-label="数" font-family='"Liberation Sans", "Noto Sans CJK JP", sans-serif'><text x="743.75" y="464.95" font-size="13.3" fill="#231815">数</text></g>
<g aria-label="検" font-family='"Liberation Sans", "Noto Sans CJK JP", sans-serif'><text x="766.15" y="420.25" font-size="13.3" fill="#231815">検</text></g>
<g aria-label="挙" font-family='"Liberation Sans", "Noto Sans CJK JP", sans-serif'><text x="766.15" y="435.15" font-size="13.3" fill="#231815">挙</text></g>
<g aria-label="人" font-family='"Liberation Sans", "Noto Sans CJK JP", sans-serif'><text x="766.15" y="450.05" font-size="13.3" fill="#231815">人</text></g>
<g aria-label="員" font-family='"Liberation Sans", "Noto Sans CJK JP", sans-serif'><text x="766.15" y="464.95" font-size="13.3" fill="#231815">員</text></g>
<rect x="79.5" y="126.5" width="381" height="157.8" fill="#fff" stroke="#827d7b" stroke-width="1"/>
<g aria-label="令和" font-family='"Liberation Sans", "Noto Sans CJK JP", sans-serif'><text x="213.5" y="143.57" font-size="13.6" fill="#231815">令和</text></g>
<g aria-label="2" font-family='"Liberation Sans", sans-serif'><text transform="scale(1.12,1)" x="216.61" y="143.57" font-size="14" fill="#231815">2</text></g>
<g aria-label="年認知件数" font-family='"Liberation Sans", "Noto Sans CJK JP", sans-serif'><text x="253.9" y="143.57" font-size="13.6" fill="#231815">年認知件数</text></g>
<g aria-label="刑法犯" font-family='"Liberation Sans", "Noto Sans CJK JP", sans-serif'><text x="92.4" y="158.77" font-size="13.6" fill="#231815">刑法犯</text></g>
<g aria-label="窃盗" font-family='"Liberation Sans", "Noto Sans CJK JP", sans-serif'><text x="143.7" y="181.47" font-size="13.6" fill="#231815">窃盗</text></g>
<g aria-label="窃盗を除く刑法犯" font-family='"Liberation Sans", "Noto Sans CJK JP", sans-serif'><text x="143.7" y="200.47" font-size="13.6" fill="#231815">窃盗を除く刑法犯</text></g>
<g aria-label="(" font-family='"Liberation Sans", sans-serif'><text x="86.2" y="221.17" font-size="13.6" fill="#231815">(</text></g>
<g aria-label="参考値" font-family='"Liberation Sans", "Noto Sans CJK JP", sans-serif'><text x="90.8" y="221.17" font-size="13.6" fill="#231815">参考値</text></g>
<g aria-label=")" font-family='"Liberation Sans", sans-serif'><text x="131.6" y="221.17" font-size="13.6" fill="#231815">)</text></g>
<g aria-label="危険運転致死傷・過失運転致死傷等" font-family='"Liberation Sans", "Noto Sans CJK JP", sans-serif'><text x="141.2" y="242.07" font-size="13.6" letter-spacing="0.08" fill="#231815">危険運転致死傷・過失運転致死傷等</text></g>
<g aria-label="刑法犯・危険運転致死傷・過失運転致死傷等" font-family='"Liberation Sans", "Noto Sans CJK JP", sans-serif'><text x="92.4" y="271.67" font-size="13.6" fill="#231815">刑法犯・危険運転致死傷・過失運転致死傷等</text></g>
<g aria-label="614,231" font-family='"Liberation Sans", sans-serif'><text transform="scale(1.1,1)" x="344 351.79 359.57 367.36 371.25 379.03 386.82" y="158.61" font-size="14" fill="#231815">614,231</text></g>
<g aria-label="件" font-family='"Liberation Sans", "Noto Sans CJK JP", sans-serif'><text x="437.2" y="158.97" font-size="13.6" fill="#231815">件</text></g>
<g aria-label="417,291" font-family='"Liberation Sans", sans-serif'><text transform="scale(1.1,1)" x="344 351.79 359.57 367.36 371.25 379.03 386.82" y="181.31" font-size="14" fill="#231815">417,291</text></g>
<g aria-label="件" font-family='"Liberation Sans", "Noto Sans CJK JP", sans-serif'><text x="437.2" y="181.67" font-size="13.6" fill="#231815">件</text></g>
<g aria-label="196,940" font-family='"Liberation Sans", sans-serif'><text transform="scale(1.1,1)" x="344 351.79 359.57 367.36 371.25 379.03 386.82" y="200.31" font-size="14" fill="#231815">196,940</text></g>
<g aria-label="件" font-family='"Liberation Sans", "Noto Sans CJK JP", sans-serif'><text x="437.2" y="200.67" font-size="13.6" fill="#231815">件</text></g>
<g aria-label="300,689" font-family='"Liberation Sans", sans-serif'><text transform="scale(1.1,1)" x="344 351.79 359.57 367.36 371.25 379.03 386.82" y="240.91" font-size="14" fill="#231815">300,689</text></g>
<g aria-label="件" font-family='"Liberation Sans", "Noto Sans CJK JP", sans-serif'><text x="437.2" y="241.27" font-size="13.6" fill="#231815">件</text></g>
<g aria-label="914,920" font-family='"Liberation Sans", sans-serif'><text transform="scale(1.1,1)" x="344 351.79 359.57 367.36 371.25 379.03 386.82" y="271.01" font-size="14" fill="#231815">914,920</text></g>
<g aria-label="件" font-family='"Liberation Sans", "Noto Sans CJK JP", sans-serif'><text x="437.2" y="271.37" font-size="13.6" fill="#231815">件</text></g>
<rect x="110.1" y="170.8" width="21" height="10.9" fill="url(#sy)"/>
<rect x="110.1" y="189.3" width="21" height="10.9" fill="url(#sp)"/>
<rect x="109.3" y="231.1" width="21" height="10.9" fill="url(#sb)"/>
<rect x="77.9" y="562.9" width="170.3" height="54" fill="#fff"/>
<rect x="290.1" y="634.2" width="89.5" height="53.6" fill="#fff"/>
<rect x="432.3" y="641.7" width="76.6" height="36" fill="#fff"/>
<polyline points="71.45,735.7 79.83,728.6 88.21,719.5 96.59,713.4 104.97,709 113.35,715.5 121.73,717.9 130.11,719.1 138.49,719.9 146.87,718.5 155.25,720.5 163.63,720.1 172.01,717.9 180.39,718.5 188.77,719.5 197.15,720.5 205.53,723.5 213.91,725 222.29,722.5 230.67,722.9 239.05,724.1 247.43,725.6 255.81,727.2 264.19,729.2 272.57,730.6 280.95,732.6 289.33,734 297.71,735.1 306.09,736.1 314.47,737.3 322.85,738.3 331.23,738.7 339.61,739.3 347.99,741.7 356.37,740.7 364.75,739.3 373.13,738 381.51,738.8 389.89,738.4 398.27,738.8 406.65,740.4 415.03,740.4 423.41,740.2 431.79,743.8 440.17,744.2 448.55,742.8 456.93,741.8 465.31,741.2 473.69,740.4 482.07,741.4 490.45,741.4 498.83,740.4 507.21,740.2 515.59,740.2 523.97,739.4 532.35,737.5 540.73,735.2 549.11,732.5 557.49,731.4 565.87,731.1 574.25,730.7 582.63,733 591.01,735.7 599.39,737.5 607.77,738.6 616.15,740.2 624.53,741.6 632.91,743.2 641.29,743.9 649.67,744.8 658.05,745.7 666.43,746.4 674.81,747 683.19,747.7 691.57,747.8" fill="none" stroke="#fff" stroke-width="5.0" stroke-linejoin="round"/>
<polyline points="71.45,735.7 79.83,728.6 88.21,719.5 96.59,713.4 104.97,709 113.35,715.5 121.73,717.9 130.11,719.1 138.49,719.9 146.87,718.5 155.25,720.5 163.63,720.1 172.01,717.9 180.39,718.5 188.77,719.5 197.15,720.5 205.53,723.5 213.91,725 222.29,722.5 230.67,722.9 239.05,724.1 247.43,725.6 255.81,727.2 264.19,729.2 272.57,730.6 280.95,732.6 289.33,734 297.71,735.1 306.09,736.1 314.47,737.3 322.85,738.3 331.23,738.7 339.61,739.3 347.99,741.7 356.37,740.7 364.75,739.3 373.13,738 381.51,738.8 389.89,738.4 398.27,738.8 406.65,740.4 415.03,740.4 423.41,740.2 431.79,743.8 440.17,744.2 448.55,742.8 456.93,741.8 465.31,741.2 473.69,740.4 482.07,741.4 490.45,741.4 498.83,740.4 507.21,740.2 515.59,740.2 523.97,739.4 532.35,737.5 540.73,735.2 549.11,732.5 557.49,731.4 565.87,731.1 574.25,730.7 582.63,733 591.01,735.7 599.39,737.5 607.77,738.6 616.15,740.2 624.53,741.6 632.91,743.2 641.29,743.9 649.67,744.8 658.05,745.7 666.43,746.4 674.81,747 683.19,747.7 691.57,747.8" fill="none" stroke="#b1cc17" stroke-width="2.7" stroke-linejoin="round" stroke-linecap="round" stroke-dasharray="4.9 5.1"/>
<polyline points="104.97,663.2 113.35,662.6 121.73,668.3 130.11,674.3 138.49,676 146.87,672.3 155.25,677.4 163.63,675.8 172.01,674.3 180.39,673.3 188.77,671.9 197.15,669.9 205.53,670.7 213.91,665.7 222.29,655 230.67,647.8 239.05,641.7 247.43,632.6 255.81,615.5 264.19,601.3 272.57,589.6 280.95,595.7 289.33,603.7 297.71,611.4 306.09,622.9 314.47,629 322.85,629.6 331.23,630.2 339.61,627 347.99,627.6 356.37,622.9 364.75,616.7 373.13,610.7 381.51,608.4 389.89,607.8 398.27,606.8 406.65,606.4 415.03,604.9 423.41,603.3 431.79,611.8 440.17,617.8 448.55,618 456.93,614.2 465.31,609 473.69,606.3 482.07,606.3 490.45,605.5 498.83,608 507.21,600.2 515.59,587 523.97,576.6 532.35,570.8 540.73,566.5 549.11,559.3 557.49,555.7 565.87,556.9 574.25,563.6 582.63,573.7 591.01,587.5 599.39,592.3 607.77,597.5 616.15,603.6 624.53,613.5 632.91,622.1 641.29,631.2 649.67,638.8 658.05,646.4 666.43,654.2 674.81,662 683.19,671.3 691.57,684.2" fill="none" stroke="#fff" stroke-width="5.0" stroke-linejoin="round"/>
<polyline points="104.97,663.2 113.35,662.6 121.73,668.3 130.11,674.3 138.49,676 146.87,672.3 155.25,677.4 163.63,675.8 172.01,674.3 180.39,673.3 188.77,671.9 197.15,669.9 205.53,670.7 213.91,665.7 222.29,655 230.67,647.8 239.05,641.7 247.43,632.6 255.81,615.5 264.19,601.3 272.57,589.6 280.95,595.7 289.33,603.7 297.71,611.4 306.09,622.9 314.47,629 322.85,629.6 331.23,630.2 339.61,627 347.99,627.6 356.37,622.9 364.75,616.7 373.13,610.7 381.51,608.4 389.89,607.8 398.27,606.8 406.65,606.4 415.03,604.9 423.41,603.3 431.79,611.8 440.17,617.8 448.55,618 456.93,614.2 465.31,609 473.69,606.3 482.07,606.3 490.45,605.5 498.83,608 507.21,600.2 515.59,587 523.97,576.6 532.35,570.8 540.73,566.5 549.11,559.3 557.49,555.7 565.87,556.9 574.25,563.6 582.63,573.7 591.01,587.5 599.39,592.3 607.77,597.5 616.15,603.6 624.53,613.5 632.91,622.1 641.29,631.2 649.67,638.8 658.05,646.4 666.43,654.2 674.81,662 683.19,671.3 691.57,684.2" fill="none" stroke="#3f80cb" stroke-width="2.35" stroke-linejoin="round" stroke-linecap="round" stroke-dasharray="2.6 4.9"/>
<polyline points="71.45,691.7 79.83,689.1 88.21,676.4 96.59,669.9 104.97,665.3 113.35,665.3 121.73,671.9 130.11,678.4 138.49,681.8 146.87,679.4 155.25,686.1 163.63,687.9 172.01,688.9 180.39,689.9 188.77,691.5 197.15,690.5 205.53,693.5 213.91,694.5 222.29,690.6 230.67,692.2 239.05,694.6 247.43,697.7 255.81,700.3 264.19,702.3 272.57,702.9 280.95,705.4 289.33,707.4 297.71,706 306.09,704.9 314.47,704.7 322.85,705.4 331.23,704.3 339.61,702.3 347.99,704.7 356.37,700.3 364.75,695.3 373.13,691.2 381.51,691.9 389.89,690.7 398.27,693.3 406.65,697.4 415.03,698.4 423.41,699.4 431.79,710.5 440.17,714.9 448.55,715.6 456.93,716.6 465.31,714.5 473.69,713.5 482.07,715.6 490.45,714.5 498.83,712.5 507.21,710.5 515.59,712.1 523.97,712.5 532.35,709.1 540.73,704.5 549.11,701.1 557.49,700 565.87,700.5 574.25,701.8 582.63,705.2 591.01,708 599.39,709.5 607.77,711.4 616.15,713.6 624.53,717.5 632.91,720.5 641.29,723.2 649.67,725 658.05,727.3 666.43,728.9 674.81,730.7 683.19,732.3 691.57,733.6" fill="none" stroke="#fff" stroke-width="4.9" stroke-linejoin="round"/>
<polyline points="71.45,691.7 79.83,689.1 88.21,676.4 96.59,669.9 104.97,665.3 113.35,665.3 121.73,671.9 130.11,678.4 138.49,681.8 146.87,679.4 155.25,686.1 163.63,687.9 172.01,688.9 180.39,689.9 188.77,691.5 197.15,690.5 205.53,693.5 213.91,694.5 222.29,690.6 230.67,692.2 239.05,694.6 247.43,697.7 255.81,700.3 264.19,702.3 272.57,702.9 280.95,705.4 289.33,707.4 297.71,706 306.09,704.9 314.47,704.7 322.85,705.4 331.23,704.3 339.61,702.3 347.99,704.7 356.37,700.3 364.75,695.3 373.13,691.2 381.51,691.9 389.89,690.7 398.27,693.3 406.65,697.4 415.03,698.4 423.41,699.4 431.79,710.5 440.17,714.9 448.55,715.6 456.93,716.6 465.31,714.5 473.69,713.5 482.07,715.6 490.45,714.5 498.83,712.5 507.21,710.5 515.59,712.1 523.97,712.5 532.35,709.1 540.73,704.5 549.11,701.1 557.49,700 565.87,700.5 574.25,701.8 582.63,705.2 591.01,708 599.39,709.5 607.77,711.4 616.15,713.6 624.53,717.5 632.91,720.5 641.29,723.2 649.67,725 658.05,727.3 666.43,728.9 674.81,730.7 683.19,732.3 691.57,733.6" fill="none" stroke="#ea6276" stroke-width="2.6" stroke-linejoin="round" stroke-linecap="round" stroke-dasharray="4.6 5.15"/>
<polyline points="71.45,389.2 79.83,439 88.21,437 96.59,388.5 104.97,324.8 113.35,314.7 121.73,326.1 130.11,308.4 138.49,316 146.87,327.4 155.25,361.5 163.63,363.7 172.01,372.8 180.39,377.9 188.77,369 197.15,351.4 205.53,349.8 213.91,356.4 222.29,350.1 230.67,372.1 239.05,386 247.43,396.6 255.81,398.4 264.19,415.7 272.57,405 280.95,405 289.33,393.6 297.71,389.8 306.09,391.4 314.47,389.8 322.85,378.5 331.23,394.9 339.61,386.8 347.99,379.7 356.37,377.2 364.75,379.2 373.13,376.2 381.51,373.7 389.89,355.3 398.27,348.2 406.65,358.5 415.03,348.9 423.41,376.7 431.79,466.4 440.17,491.7 448.55,516.5 456.93,527.1 465.31,506.3 473.69,485.1 482.07,489.4 490.45,500.2 498.83,504.6 507.21,518.3 515.59,545.3 523.97,611.1 532.35,634.7 540.73,628.7 549.11,612.3 557.49,596.6 565.87,579.8 574.25,562.9 582.63,558.1 591.01,559.8 599.39,557.7 607.77,563.4 616.15,565 624.53,561.6 632.91,569.8 641.29,566.1 649.67,554.1 658.05,543.8 666.43,531 674.81,519 683.19,509.6 691.57,469" fill="none" stroke="#fff" stroke-width="3.9" stroke-linejoin="round"/>
<polyline points="71.45,389.2 79.83,439 88.21,437 96.59,388.5 104.97,324.8 113.35,314.7 121.73,326.1 130.11,308.4 138.49,316 146.87,327.4 155.25,361.5 163.63,363.7 172.01,372.8 180.39,377.9 188.77,369 197.15,351.4 205.53,349.8 213.91,356.4 222.29,350.1 230.67,372.1 239.05,386 247.43,396.6 255.81,398.4 264.19,415.7 272.57,405 280.95,405 289.33,393.6 297.71,389.8 306.09,391.4 314.47,389.8 322.85,378.5 331.23,394.9 339.61,386.8 347.99,379.7 356.37,377.2 364.75,379.2 373.13,376.2 381.51,373.7 389.89,355.3 398.27,348.2 406.65,358.5 415.03,348.9 423.41,376.7 431.79,466.4 440.17,491.7 448.55,516.5 456.93,527.1 465.31,506.3 473.69,485.1 482.07,489.4 490.45,500.2 498.83,504.6 507.21,518.3 515.59,545.3 523.97,611.1 532.35,634.7 540.73,628.7 549.11,612.3 557.49,596.6 565.87,579.8 574.25,562.9 582.63,558.1 591.01,559.8 599.39,557.7 607.77,563.4 616.15,565 624.53,561.6 632.91,569.8 641.29,566.1 649.67,554.1 658.05,543.8 666.43,531 674.81,519 683.19,509.6 691.57,469" fill="none" stroke="#eb6473" stroke-width="2.35" stroke-linejoin="round"/>
<g aria-label="検挙人員" font-family='"Liberation Sans", "Noto Sans CJK JP", sans-serif'><text x="135.8" y="578.27" font-size="13.6" fill="#4d88cc">検挙人員</text></g>
<g aria-label="(" font-family='"Liberation Sans", sans-serif'><text x="80.6" y="595.27" font-size="13.6" fill="#4d88cc">(</text></g>
<g aria-label="刑法犯・危険運転致死傷・" font-family='"Liberation Sans", "Noto Sans CJK JP", sans-serif'><text x="85.2" y="595.27" font-size="13.6" fill="#4d88cc">刑法犯・危険運転致死傷・</text></g>
<g aria-label="過失運転致死傷等" font-family='"Liberation Sans", "Noto Sans CJK JP", sans-serif'><text x="105.5" y="612.57" font-size="13.6" fill="#4d88cc">過失運転致死傷等</text></g>
<g aria-label=")" font-family='"Liberation Sans", sans-serif'><text x="214.9" y="612.57" font-size="13.6" fill="#4d88cc">)</text></g>
<g aria-label="検挙人員" font-family='"Liberation Sans", "Noto Sans CJK JP", sans-serif'><text x="307.2" y="649.87" font-size="13.6" fill="#a3c021">検挙人員</text></g>
<g aria-label="(" font-family='"Liberation Sans", sans-serif'><text x="299.6" y="667.77" font-size="13.6" fill="#a3c021">(</text></g>
<g aria-label="窃盗を除く" font-family='"Liberation Sans", "Noto Sans CJK JP", sans-serif'><text x="304.2" y="667.77" font-size="13.6" fill="#a3c021">窃盗を除く</text></g>
<g aria-label="刑法犯" font-family='"Liberation Sans", "Noto Sans CJK JP", sans-serif'><text x="311" y="685.27" font-size="13.6" fill="#a3c021">刑法犯</text></g>
<g aria-label=")" font-family='"Liberation Sans", sans-serif'><text x="352.4" y="685.27" font-size="13.6" fill="#a3c021">)</text></g>
<g aria-label="検挙人員" font-family='"Liberation Sans", "Noto Sans CJK JP", sans-serif'><text x="442.7" y="656.97" font-size="13.6" fill="#e8687b">検挙人員</text></g>
<g aria-label="(" font-family='"Liberation Sans", sans-serif'><text x="444.6" y="674.17" font-size="13.6" fill="#e8687b">(</text></g>
<g aria-label="刑法犯" font-family='"Liberation Sans", "Noto Sans CJK JP", sans-serif'><text x="449.5" y="674.17" font-size="13.6" fill="#e8687b">刑法犯</text></g>
<g aria-label=")" font-family='"Liberation Sans", sans-serif'><text x="490.9" y="674.17" font-size="13.6" fill="#e8687b">)</text></g>
<g aria-label="刑法犯検挙率" font-family='"Liberation Sans", "Noto Sans CJK JP", sans-serif'><text x="262.3" y="366.17" font-size="13.6" fill="#e8687b">刑法犯検挙率</text></g>
<path d="M162.2 617L162.2 670.05" stroke="#111" stroke-width="1.3"/>
<path d="M162.2 674.3L159.3 669.3L162.2 670.05L165.1 669.3z" fill="#111"/>
<path d="M334.2 687.8L334.2 731.45" stroke="#111" stroke-width="1.3"/>
<path d="M334.2 735.7L331.3 730.7L334.2 731.45L337.1 730.7z" fill="#111"/>
<path d="M471 677.7L471 707.25" stroke="#111" stroke-width="1.3"/>
<path d="M471 711.5L468.1 706.5L471 707.25L473.9 706.5z" fill="#111"/>
<path d="M712.9 481L697.39 473.12" stroke="#111" stroke-width="1.2"/>
<path d="M693.6 471.2L699.37 470.88L697.39 473.12L696.75 476.05z" fill="#111"/>
<path d="M713.2 705.2L696.62 689.88" stroke="#111" stroke-width="1.2"/>
<path d="M693.5 687L699.14 688.26L696.62 689.88L695.2 692.52z" fill="#111"/>
<path d="M712.7 727.9L699.05 732.22" stroke="#111" stroke-width="1.2"/>
<path d="M695 733.5L698.89 729.23L699.05 732.22L700.64 734.76z" fill="#111"/>
<path d="M712.7 745.6L699.23 746.97" stroke="#111" stroke-width="1.2"/>
<path d="M695 747.4L699.68 744.01L699.23 746.97L700.27 749.78z" fill="#111"/>
<g aria-label="45.5" font-family='"Liberation Sans", sans-serif'><text transform="scale(1.12,1)" x="637.77 645.55 653.34 657.23" y="486.91" font-size="14" fill="#ea6276">45.5</text></g>
<g aria-label="491,145" font-family='"Liberation Sans", sans-serif'><text transform="scale(1.125,1)" x="635.44 643.22 651.01 658.8 662.69 670.47 678.26" y="709.71" font-size="14" fill="#4d88cc">491,145</text></g>
<g aria-label="182,582" font-family='"Liberation Sans", sans-serif'><text transform="scale(1.125,1)" x="635.44 643.22 651.01 658.8 662.69 670.47 678.26" y="731.71" font-size="14" fill="#ea6276">182,582</text></g>
<g aria-label="94,118" font-family='"Liberation Sans", sans-serif'><text transform="scale(1.125,1)" x="643.22 651.01 658.8 662.69 670.47 678.26" y="748.11" font-size="14" fill="#b1cc17">94,118</text></g>
<g aria-label="注" font-family='"Liberation Serif", "Noto Serif CJK SC", serif'><text x="5" y="817.36" font-size="12.25" fill="#231815">注</text></g>
<g aria-label="1" font-family='"Liberation Serif", serif'><text x="33" y="817.15" font-size="13.5" fill="#231815">1</text></g>
<g aria-label="2" font-family='"Liberation Serif", serif'><text x="33" y="832.85" font-size="13.5" fill="#231815">2</text></g>
<g aria-label="3" font-family='"Liberation Serif", serif'><text x="33" y="848.55" font-size="13.5" fill="#231815">3</text></g>
<g aria-label="4" font-family='"Liberation Serif", serif'><text x="33" y="864.35" font-size="13.5" fill="#231815">4</text></g>
<g aria-label="警察庁の統計による。" font-family='"Liberation Serif", "Noto Serif CJK SC", serif'><text x="53.5" y="817.36" font-size="12.25" letter-spacing="0.11" fill="#231815">警察庁の統計による。</text></g>
<g aria-label="昭和 30 年以前は，14 歳未満の少年による触法行為を含む。" font-family='"Liberation Serif", "Noto Serif CJK SC", serif'><text x="53.5" y="833.05" font-size="12.25" letter-spacing="0.055" fill="#231815">昭和</text><text x="98.59" y="833.05" font-size="12.25" letter-spacing="0.055" fill="#231815">年以前は，</text><text x="177.16" y="833.05" font-size="12.25" letter-spacing="0.055" fill="#231815">歳未満の少年による触法行為を含む。</text><text x="81.54 88.35" y="833.05" font-size="13.5" fill="#231815">30</text><text x="160.11 166.92" y="833.05" font-size="13.5" fill="#231815">14</text></g>
<g aria-label="昭和 40 年以前の「刑法犯」は，業務上（重）過失致死傷を含まない。" font-family='"Liberation Serif", "Noto Serif CJK SC", serif'><text x="53.5" y="848.75" font-size="12.25" letter-spacing="0.09" fill="#231815">昭和</text><text x="98.8" y="848.75" font-size="12.25" letter-spacing="0.09" fill="#231815">年以前の「刑法犯」は，業務上（重）過失致死傷を含まない。</text><text x="81.65 88.49" y="848.75" font-size="13.5" fill="#231815">40</text></g>
<g aria-label="危険運転致死傷は，平成 14 年から 26 年までは「刑法犯」に，27 年以降は「危険運転致死傷・過失運転致死傷等」に計上している。" font-family='"Liberation Serif", "Noto Serif CJK SC", serif'><text x="53.5" y="864.55" font-size="12.25" letter-spacing="0.087" fill="#231815">危険運転致死傷は，平成</text><text x="209.81" y="864.55" font-size="12.25" letter-spacing="0.087" fill="#231815">年から</text><text x="267.42" y="864.55" font-size="12.25" letter-spacing="0.087" fill="#231815">年までは「刑法犯」に，</text><text x="420.27" y="864.55" font-size="12.25" letter-spacing="0.087" fill="#231815">年以降は「危険運転致死傷・過失運転致死傷等」に計上している。</text><text x="192.67 199.51" y="864.55" font-size="13.5" fill="#231815">14</text><text x="250.28 257.12" y="864.55" font-size="13.5" fill="#231815">26</text><text x="403.13 409.97" y="864.55" font-size="13.5" fill="#231815">27</text></g>
</svg>
</body></html>
